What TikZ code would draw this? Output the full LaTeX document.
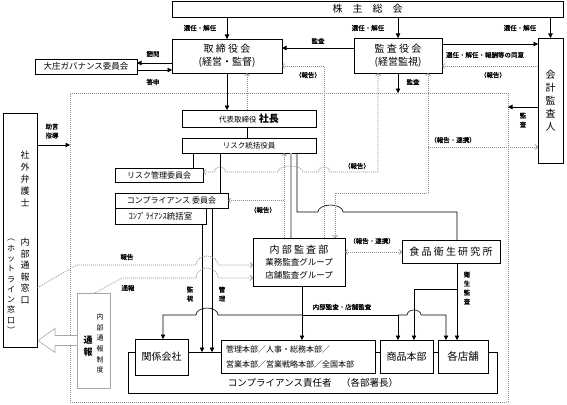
\documentclass[tikz,border=0pt]{standalone}
\usepackage{fontspec}
\setmainfont{Noto Sans CJK JP}
\usetikzlibrary{shapes,arrows,arrows.meta,positioning,fit,backgrounds,shadows}
\definecolor{repgray}{RGB}{140,140,140}
\newcommand{\jpsize}[1]{\fontsize{#1}{#1}\selectfont}

\begin{document}
\begin{tikzpicture}[x=1pt,y=-1pt,
  every node/.style={inner sep=1pt, outer sep=0pt},
  box/.style={draw, fill=white, line width=0.7pt, font=\jpsize{10},
    drop shadow={shadow xshift=1pt, shadow yshift=-1pt, fill=black!80, opacity=1}},
  lab/.style={font=\jpsize{6.5}\addfontfeature{FakeBold=1}},
  vlab/.style={font=\fontsize{6.5}{9}\selectfont\addfontfeature{FakeBold=1}, align=center},
  con/.style={line width=0.6pt},
  arr/.style={line width=0.6pt, -{Triangle[length=4.5pt,width=4.5pt]}},
  rep/.style={draw=repgray, line width=0.7pt, dash pattern=on 1pt off 1pt},
  tipe/.style={-{Straight Barb[length=2.5pt,width=5pt]}},
  tipb/.style={{Straight Barb[length=2.5pt,width=5pt]}-{Straight Barb[length=2.5pt,width=5pt]}}]
\useasboundingbox (0,0) rectangle (567,404);

% routing lines
\coordinate (xKk) at (163,0);
\coordinate (xRc) at (193,0);
\coordinate (xKs) at (202,0);
\coordinate (xKr) at (212,0);
\coordinate (xCo) at (220,0);
\coordinate (xSh) at (247,0);
\coordinate (xRp) at (284,0);
\coordinate (xDb) at (291,0);
\coordinate (xFd) at (297,0);
\coordinate (xNa) at (302,0);
\coordinate (xTk) at (324,0);
\coordinate (xAu) at (335,0);
\coordinate (xKa) at (378,0);
\coordinate (xSa) at (398,0);
\coordinate (xFb) at (414,0);
\coordinate (xKb) at (428,0);
\coordinate (xTa) at (446,0);
\coordinate (xFa) at (457,0);
\coordinate (yKs) at (0,107);
\coordinate (yJo) at (0,145);
\coordinate (yKa) at (0,147);
\coordinate (yRk) at (0,172);
\coordinate (yKb) at (0,193);
\coordinate (yFd) at (0,212);
\coordinate (yNf) at (0,252);
\coordinate (yHs) at (0,288);
\coordinate (yHe) at (0,289);
\coordinate (yAud) at (0,315);
\coordinate (yBr) at (0,352);
\coordinate (bHo) at (77,265);
\coordinate (bTu) at (122,278);
\coordinate (brL) at (128,393);
\coordinate (brR) at (497,393);

% company frame
\node[draw=repgray, line width=0.7pt, dash pattern=on 1pt off 1pt, minimum width=438pt, minimum height=309pt] (company) at (289,247.5) {};

% top row
\node[box, minimum width=391pt, minimum height=16pt] (kabu) at (367.5,9) {株　主　総　会};
\node[box, minimum width=110pt, minimum height=34pt, align=center, font=\fontsize{10}{13}\selectfont] (tk) at (227,56) {取 締 役 会\\(経営・監督)};
\node[box, minimum width=88pt, minimum height=35pt, align=center, font=\fontsize{10}{13}\selectfont] (kk) at (398,55.5) {監 査 役 会\\(経営監視)};
\node[box, minimum width=25pt, minimum height=125pt, align=center, font=\fontsize{10}{13}\selectfont] (kaikei) at (550.5,100.5) {会\\計\\監\\査\\人};
\node[box, minimum width=102pt, minimum height=15pt, font=\jpsize{8.5}] (gov) at (86,66.5) {大庄ガバナンス委員会};

% management column
\node[box, minimum width=134pt, minimum height=17pt] (shacho) at (249,118.5) {{\jpsize{7.5}代表取締役}\ {\bfseries 社長}};
\node[box, minimum width=134pt, minimum height=15pt, font=\jpsize{7.5}] (risk) at (249,145.5) {リスク統括役員};
\node[box, minimum width=88pt, minimum height=14pt, font=\jpsize{8}] (riskc) at (159,175) {リスク管理委員会};
\node[box, minimum width=113pt, minimum height=15pt, font=\jpsize{8}] (comp) at (171.5,200.5) {コンプライアンス 委員会};
\node[box, minimum width=91pt, minimum height=16pt, font=\jpsize{8.5}] (compr) at (160.5,216) {ｺﾝﾌﾟﾗｲｱﾝｽ統括室};
\node[box, minimum width=92pt, minimum height=48pt, align=center, font=\fontsize{8.5}{12.5}\selectfont] (naibu) at (299,262) {{\fontsize{10}{12.5}\selectfont 内 部 監 査 部}\\業務監査グループ\\店舗監査グループ};
\node[box, minimum width=98pt, minimum height=23pt] (food) at (451,251.5) {食 品 衛 生 研 究 所};

% bottom row
\node[box, minimum width=53pt, minimum height=36pt] (kankei) at (161.5,357) {関係会社};
\node[box, minimum width=154pt, minimum height=33pt, text width=144pt, inner xsep=5pt, align=left, font=\fontsize{8}{15}\selectfont] (kanri) at (298,356.5) {管理本部／人事・総務本部／\\営業本部／営業戦略本部／全国本部};
\node[box, minimum width=53pt, minimum height=33pt] (shohin) at (406.5,356.5) {商品本部};
\node[box, minimum width=50pt, minimum height=33pt, font=\jpsize{10.5}] (tenpo) at (463,356.5) {各店舗};
\node[font=\jpsize{9.5}] (sekinin) at (313,383) {コンプライアンス責任者　（各部署長）};

% left side
\node[box, minimum width=34pt, minimum height=234pt] (bengo) at (20,230) {};
\node[font=\fontsize{9}{12}\selectfont, align=center] (bengoA) at (25,178.5) {社\\外\\弁\\護\\士};
\node[font=\fontsize{9}{11.6}\selectfont, align=center] (bengoB) at (25,271) {内\\部\\通\\報\\窓\\口};
\node[font=\fontsize{8}{10.3}\selectfont, align=center] (bengoC) at (11,286.5) {︵\\ホ\\ッ\\ト\\ラ\\イ\\ン\\窓\\口\\︶};
\node[draw=gray!70, fill=white, line width=0.6pt, minimum width=33pt, minimum height=95pt] (seido) at (93.5,340.5) {};
\node[font=\fontsize{9}{12}\selectfont\bfseries, align=center] (seidoA) at (88,346) {通\\報};
\node[font=\fontsize{7}{10.6}\selectfont, align=center] (seidoB) at (100,343.5) {内\\部\\通\\報\\制\\度};

% labels
\node[lab] (l1) at (200,28) {選任・解任};
\node[lab] (l2) at (368,28) {選任・解任};
\node[lab] (l3) at (520,28) {選任・解任};
\node[lab] (l4) at (318,41) {監査};
\node[lab] (l5) at (308,75) {（報告）};
\node[lab] (l6) at (485,55) {選任・解任・報酬等の同意};
\node[lab] (l7) at (493,75) {（報告）};
\node[lab] (l8) at (413,82) {監査};
\node[lab] (l9) at (153,54) {諮問};
\node[lab] (l10) at (153,82) {答申};
\node[vlab] (l11) at (52,131) {助言\\指導};
\node[vlab] (l12) at (523,120) {監\\査};
\node[lab] (l13) at (453,140) {（報告・連携）};
\node[lab] (l14) at (357,166) {（報告）};
\node[lab] (l15) at (263,210) {（報告）};
\node[lab] (l16) at (372,241) {（報告・連携）};
\node[lab] (l17) at (127,257) {報告};
\node[lab] (l18) at (128,288) {通報};
\node[vlab] (l19) at (190,294) {監\\視};
\node[vlab] (l20) at (222,294) {管\\理};
\node[lab] (l21) at (342,307) {内部監査・店舗監査};
\node[vlab] (l22) at (467,288) {衛\\生\\監\\査};

% shareholders
\draw[arr] (kabu.south -| tk) -- (tk.north);
\draw[arr] (kabu.south -| kk) -- (kk.north);
\draw[arr] (kabu.south -| kaikei) -- (kaikei.north);

% board, auditors, governance committee
\draw[arr] ([yshift=7.5pt]kk.west) -- ([yshift=7.5pt]kk.west -| tk.east);
\draw[rep, tipe] (naibu.north -| xTk) |- ([yshift=-10pt]tk.east);
\draw[arr] ([yshift=11.5pt]kk.east) -- ([yshift=11.5pt]kk.east -| kaikei.west);
\draw[rep, tipe] ([yshift=-10.5pt]kk.east -| kaikei.west) -- ([yshift=-10.5pt]kk.east);
\draw[arr] ([yshift=-7pt]tk.west) -- ([yshift=-7pt]tk.west -| gov.east);
\draw[arr] ([yshift=-14pt]tk.west -| gov.east) -- ([yshift=-14pt]tk.west);
\draw[arr] (kk.south) -- (kk.south |- company.north);
\draw[arr] (kaikei.west |- yKs) -- (company.east |- yKs);
\draw[arr] (bengo.east |- yJo) -- (company.west |- yJo);

% management column
\draw[arr] (tk.south) -- (tk.south |- shacho.north);
\draw[rep, tipe] (shacho.north -| xSh) -- (tk.south -| xSh);
\draw[con] (shacho.south -| xSh) -- (risk.north -| xSh);
\draw[con] (risk.south -| xRc) -- (riskc.north -| xRc);
\draw[con] (risk.south -| xCo) -- (comp.north -| xCo);
\draw[arr] (compr.south -| xKs) -- (xKs |- yBr);
\draw[arr] (comp.south -| xKr) -- (xKr |- yBr);
\draw[rep, tipe] (naibu.north -| xRp) -- (risk.south -| xRp);
\draw[rep, tipe] (xRp |- comp.east) -- (comp.east);
\draw[line width=1.1pt, gray!60] (risk.south -| xDb) -- (naibu.north -| xDb);
\draw[con] (risk.south -| xFd) |- ([xshift=-6pt]xTk |- yFd) arc[start angle=180, end angle=0, x radius=12.5pt, y radius=7pt] -| (food.north -| xFa);

% reports between auditors and staff
\draw[rep, tipb] (kk.south -| xKa) |- ([xshift=6pt]xTk |- yRk)
  arc[start angle=0, end angle=180, x radius=6pt, y radius=5pt] -- ([xshift=6pt]xFd |- yRk)
  arc[start angle=0, end angle=180, x radius=12.5pt, y radius=6pt] -- ([xshift=6pt]xCo |- yRk)
  arc[start angle=0, end angle=180, x radius=6pt, y radius=5pt] -- (riskc.east |- yRk);
\draw[rep, tipb] (kk.south -| xKb) |- (xAu |- yKb) -- (naibu.north -| xAu);
\draw[rep, tipe] (xKb |- yKa) -- (kaikei.west |- yKa);
\draw[rep, tipb] (naibu.east |- yNf) -- (food.west |- yNf);

% whistleblowing
\draw[rep, tipe] (bengo.east |- yHs) -- (bHo) -- ([xshift=-6pt]xKs |- bHo)
  arc[start angle=180, end angle=0, x radius=11pt, y radius=9pt] -- (naibu.west |- bHo);
\draw[rep, tipe] ([xshift=1.5pt]seido.north) -- (bTu) -- ([xshift=-6pt]xKs |- bTu)
  arc[start angle=180, end angle=0, x radius=11pt, y radius=10pt] -- (naibu.west |- bTu);
\draw[gray!70, line width=0.6pt, fill=white] ([yshift=5pt]seido.west) -- ++(-22pt,0) -- ++(0,7pt)
  -- ++(-17pt,-12pt) -- ++(17pt,-12pt) -- ++(0,7pt) -- ++(22pt,0);

% audits downwards
\draw[arr] (naibu.south -| xNa) -- (kanri.north -| xNa);
\draw[arr] (xNa |- yAud) -- ([xshift=16pt]xKs |- yAud) arc[start angle=0, end angle=180, x radius=11pt, y radius=7pt] -| (kankei.north -| xKk);
\draw[arr] (xNa |- yAud) -| (shohin.north -| xSa);
\draw[arr] (xSa |- yAud) -- ([xshift=-7pt]xFb |- yAud) arc[start angle=180, end angle=0, x radius=7pt, y radius=5pt] -| (tenpo.north -| xTa);
\draw[arr] (food.south -| xFa) -- (tenpo.north -| xFa);
\draw[arr] (xFa |- yHe) -| (shohin.north -| xFb);

% compliance bracket
\draw[con] (kankei.east |- yBr) -- (kanri.west |- yBr);
\draw[con] (kanri.east |- yBr) -- (shohin.west |- yBr);
\draw[con] (shohin.east |- yBr) -- (tenpo.west |- yBr);
\draw[con] (kankei.west |- yBr) -| (brL) -- (brR) |- (tenpo.east |- yBr);
\end{tikzpicture}
\end{document}
